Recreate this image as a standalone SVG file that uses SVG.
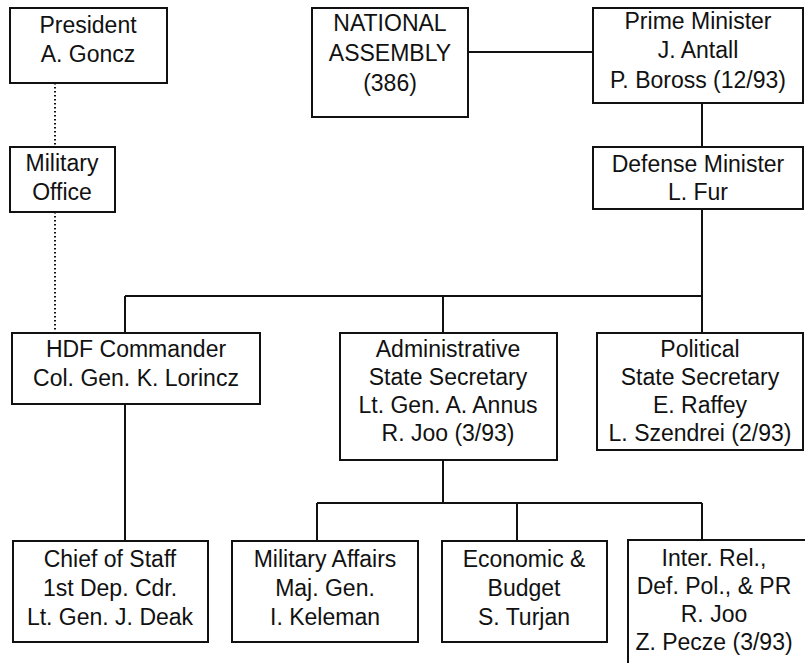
<svg xmlns="http://www.w3.org/2000/svg" width="805" height="663" viewBox="0 0 805 663">
<style>
rect.box{fill:#fff;stroke:#111;stroke-width:2}
.c line,.c path{stroke:#111;stroke-width:2;fill:none}
.c .dot{stroke-dasharray:1.5 2.5}
text{font-family:"Liberation Sans",Arial,sans-serif;font-size:23px;fill:#111;text-anchor:middle}
</style>
<rect width="805" height="663" fill="#fff"/>
<g class="c" id="connectors">
<line class="dot" x1="55" y1="83" x2="55" y2="147"/>
<line class="dot" x1="55" y1="212" x2="55" y2="333"/>
<line x1="468" y1="52" x2="593" y2="52"/>
<line x1="702" y1="103" x2="702" y2="147"/>
<line x1="702" y1="209" x2="702" y2="296"/>
<line x1="125" y1="296" x2="702" y2="296"/>
<line x1="125" y1="296" x2="125" y2="333"/>
<line x1="443" y1="296" x2="443" y2="333"/>
<line x1="702" y1="296" x2="702" y2="333"/>
<line x1="125" y1="404" x2="125" y2="541"/>
<line x1="443" y1="460" x2="443" y2="503"/>
<line x1="317" y1="503" x2="702" y2="503"/>
<line x1="317" y1="503" x2="317" y2="541"/>
<line x1="517" y1="503" x2="517" y2="541"/>
<line x1="702" y1="503" x2="702" y2="540"/>
</g>
<g id="president"><rect class="box" x="10" y="8" width="157" height="75"/>
<text x="88" y="33">President</text><text x="88" y="62">A. Goncz</text></g>
<g id="assembly"><rect class="box" x="312" y="8" width="156" height="109"/>
<text x="390" y="31">NATIONAL</text><text x="390" y="61">ASSEMBLY</text><text x="390" y="91">(386)</text></g>
<g id="pm"><rect class="box" x="593" y="8" width="210" height="95"/>
<text x="698" y="29">Prime Minister</text><text x="698" y="58">J. Antall</text><text x="698" y="88">P. Boross (12/93)</text></g>
<g id="milofc"><rect class="box" x="10" y="147" width="105" height="65"/>
<text x="62" y="171">Military</text><text x="62" y="200">Office</text></g>
<g id="dm"><rect class="box" x="593" y="147" width="210" height="62"/>
<text x="698" y="172">Defense Minister</text><text x="698" y="200">L. Fur</text></g>
<g id="hdf"><rect class="box" x="12" y="333" width="248" height="71"/>
<text x="136" y="357">HDF Commander</text><text x="136" y="386">Col. Gen. K. Lorincz</text></g>
<g id="admin"><rect class="box" x="340" y="333" width="217" height="127"/>
<text x="448" y="357">Administrative</text><text x="448" y="385">State Secretary</text><text x="448" y="413">Lt. Gen. A. Annus</text><text x="448" y="441">R. Joo (3/93)</text></g>
<g id="political"><rect class="box" x="597" y="333" width="206" height="117"/>
<text x="700" y="357">Political</text><text x="700" y="385">State Secretary</text><text x="700" y="413">E. Raffey</text><text x="700" y="441">L. Szendrei (2/93)</text></g>
<g id="chief"><rect class="box" x="13" y="541" width="195" height="101"/>
<text x="110" y="567">Chief of Staff</text><text x="110" y="596">1st Dep. Cdr.</text><text x="110" y="625">Lt. Gen. J. Deak</text></g>
<g id="milaff"><rect class="box" x="232" y="541" width="186" height="101"/>
<text x="325" y="567">Military Affairs</text><text x="325" y="596">Maj. Gen.</text><text x="325" y="625">I. Keleman</text></g>
<g id="econ"><rect class="box" x="442" y="541" width="165" height="101"/>
<text x="524" y="567">Economic &amp;</text><text x="524" y="596">Budget</text><text x="524" y="625">S. Turjan</text></g>
<g id="inter"><rect class="box" x="628" y="540" width="182" height="140"/>
<text x="714" y="566">Inter. Rel.,</text><text x="714" y="594">Def. Pol., &amp; PR</text><text x="714" y="622">R. Joo</text><text x="714" y="650">Z. Pecze (3/93)</text></g>
</svg>
